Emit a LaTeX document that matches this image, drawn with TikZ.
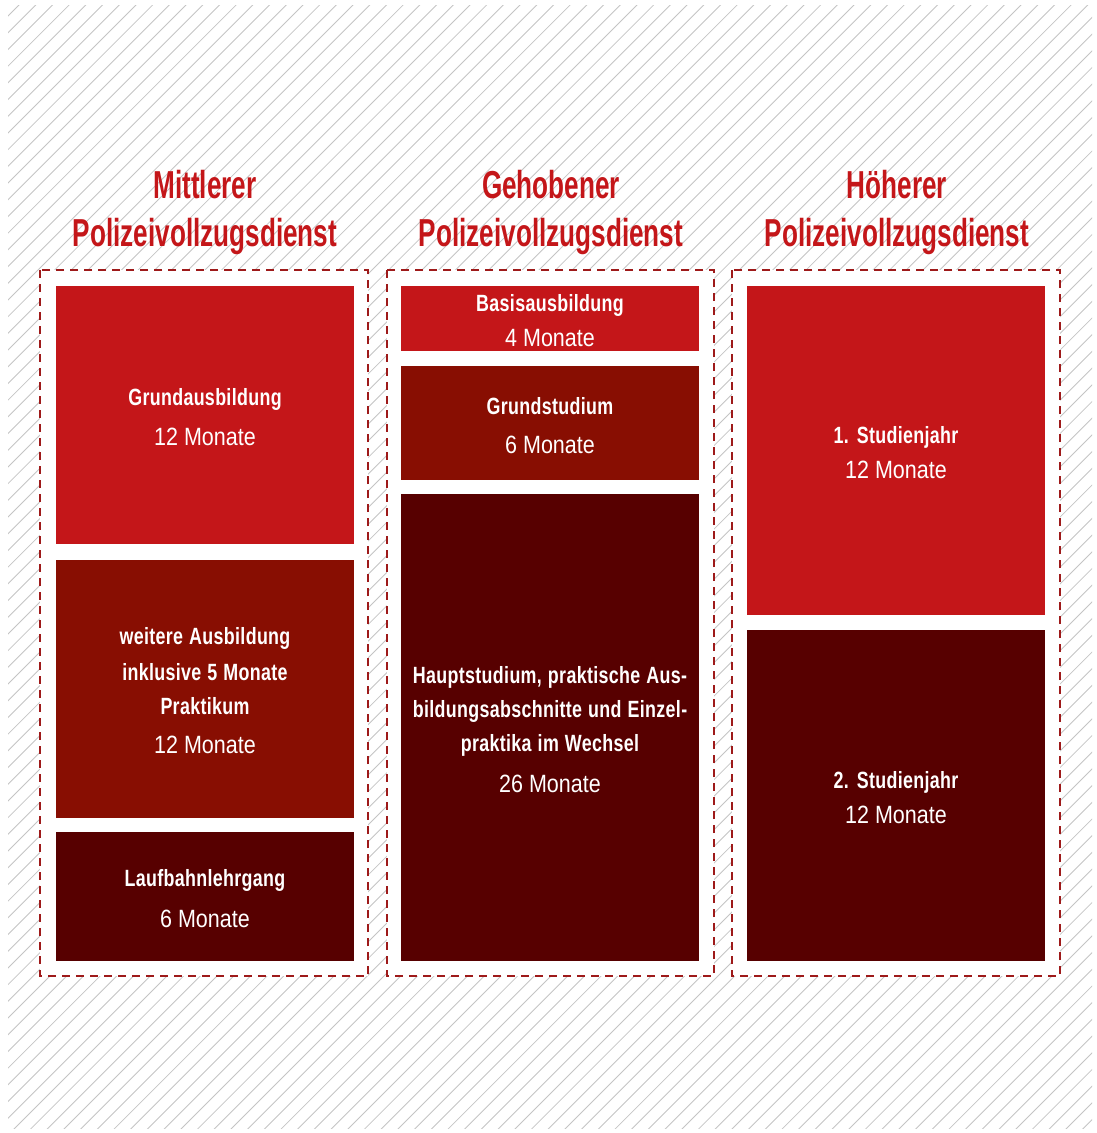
\documentclass[tikz,border=0pt]{standalone}
\usepackage{fontspec}
\newfontfamily\headfont[FakeStretch=0.67]{Liberation Sans}
\newfontfamily\boldfont[FakeStretch=0.76,LetterSpace=1.4,WordSpace=1.15]{Liberation Sans}
\newfontfamily\regfont[FakeStretch=0.86]{Liberation Sans}
\definecolor{redA}{HTML}{C41619}
\definecolor{redB}{HTML}{880E02}
\definecolor{redC}{HTML}{570000}
\definecolor{dashc}{HTML}{9E1A1A}
\definecolor{hatchc}{HTML}{C4C4C4}
\tikzset{
  hatch/.style={draw=hatchc, line width=0.85pt},
  frame/.style={draw=dashc, line width=1.4pt, dash pattern=on 8pt off 6pt, fill=white},
  head/.style={text=redA, font=\headfont\bfseries\fontsize{39}{45}\selectfont, inner sep=0pt},
  bt/.style={text=white, font=\boldfont\bfseries\fontsize{23.5}{28}\selectfont, inner sep=0pt},
  rt/.style={text=white, font=\regfont\fontsize{25}{30}\selectfont, inner sep=0pt},
}
\begin{document}
\begin{tikzpicture}[x=1pt,y=-1pt]
\useasboundingbox (0,0) rectangle (1097,1133);
% hatched background
\begin{scope}
\clip (8,5) rectangle (1092,1128);
\foreach \c in {24,40.7,...,2240} \draw[hatch] (\c-1140,1140) -- (\c,0);
\end{scope}
% headers
\node[head] (h1a) at (205,185) {Mittlerer};
\node[head] (h1b) at (205,236) {Polizeivollzugsdienst};
\node[head] (h2a) at (551,185) {Gehobener};
\node[head] (h2b) at (551,236) {Polizeivollzugsdienst};
\node[head] (h3a) at (897,185) {Höherer};
\node[head] (h3b) at (897,236) {Polizeivollzugsdienst};
% dashed frames
\draw[frame] (40,270) rectangle (368,976);
\draw[frame] (387,270) rectangle (714,976);
\draw[frame] (732,270) rectangle (1060,976);
% column 1
\fill[redA] (56,286) rectangle (354,544);
\fill[redB] (56,560) rectangle (354,818);
\fill[redC] (56,832) rectangle (354,961);
\node[bt] (t1) at (205,399) {Grundausbildung};
\node[rt] (m1) at (205,437) {12 Monate};
\node[bt] (t2a) at (205,638) {weitere Ausbildung};
\node[bt] (t2b) at (205,672) {inklusive 5 Monate};
\node[bt] (t2c) at (205,706) {Praktikum};
\node[rt] (m2) at (205,745) {12 Monate};
\node[bt] (t3) at (205,880) {Laufbahnlehrgang};
\node[rt] (m3) at (205,919) {6 Monate};
% column 2
\fill[redA] (401,286) rectangle (699,351);
\fill[redB] (401,366) rectangle (699,480);
\fill[redC] (401,494) rectangle (699,961);
\node[bt] (t4) at (550,305) {Basisausbildung};
\node[rt] (m4) at (550,338) {4 Monate};
\node[bt] (t5) at (550,406) {Grundstudium};
\node[rt] (m5) at (550,445) {6 Monate};
\node[bt] (t6a) at (550,677) {Hauptstudium, praktische Aus-};
\node[bt] (t6b) at (550,711) {bildungsabschnitte und Einzel-};
\node[bt] (t6c) at (550,745) {praktika im Wechsel};
\node[rt] (m6) at (550,784) {26 Monate};
% column 3
\fill[redA] (747,286) rectangle (1045,615);
\fill[redC] (747,630) rectangle (1045,961);
\node[bt] (t7) at (896,437) {1. Studienjahr};
\node[rt] (m7) at (896,470) {12 Monate};
\node[bt] (t8) at (896,782) {2. Studienjahr};
\node[rt] (m8) at (896,815) {12 Monate};
\end{tikzpicture}
\end{document}
